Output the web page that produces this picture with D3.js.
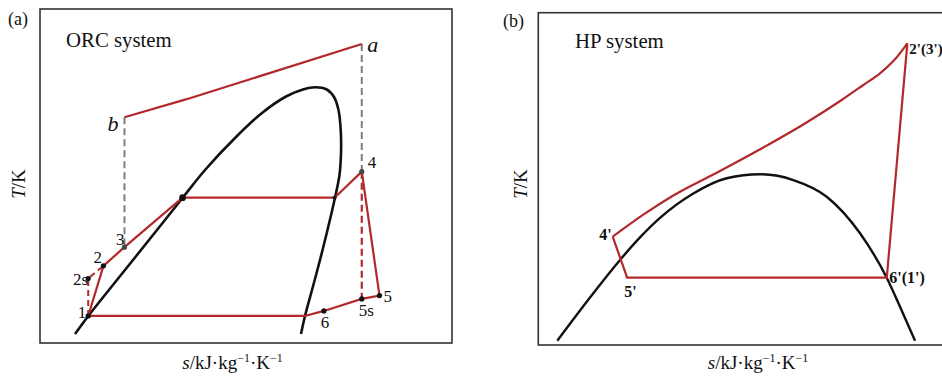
<!DOCTYPE html>
<html>
<head>
<meta charset="utf-8">
<script src="https://cdn.jsdelivr.net/npm/d3@7"></script>
<style>
  body { margin: 0; background: #fff; }
  svg { display: block; }
  text { font-family: "Liberation Serif", "Times New Roman", serif; fill: #111; }
</style>
</head>
<body>
<svg id="chart" width="942" height="380"></svg>
<script>
// ---------- (a) ORC system: T–s diagram, normalised units (0–100) ----------
const orcSaturation = [
  [8.50, 2.69], [11.72, 8.08], [23.06, 25.60], [34.64, 43.50], [40.05, 51.80], [47.57, 61.68],
  [53.88, 68.86], [59.71, 73.80], [63.83, 75.90], [66.75, 76.56], [69.59, 75.90], [71.36, 73.65],
  [72.45, 69.76], [72.99, 63.77], [73.06, 56.89], [72.69, 50.30], [71.60, 43.50], [69.66, 33.23],
  [67.96, 24.85], [66.02, 15.87], [64.32, 8.08], [63.35, 2.69]
];
// state points of the working fluid
const orcStateNames = ["1", "2s", "2", "3", "bubble", "dew", "4", "5", "5s", "6", "sat"];
const orcStateS     = [11.7, 11.7, 15.4, 20.5, 34.6, 71.5, 78.1, 82.4, 78.1, 68.9, 64.3];
const orcStateT     = [ 8.1, 19.3, 23.1, 28.7, 43.5, 43.5, 51.3, 14.2, 13.2,  9.6,  8.1];
// heat source line b → a
const orcSourceS = [20.5, 35.6, 78.1];
const orcSourceT = [67.6, 73.0, 89.5];
// cycle order and the ideal (isentropic) paths
const orcCycleOrder   = ["1", "2", "3", "bubble", "dew", "4", "5", "5s", "6", "sat", "1"];
const orcIdealPump    = ["1", "2s", "2"];
const orcIdealTurbine = ["4", "5s"];
const orcMarked       = ["1", "2s", "2", "3", "bubble", "dew", "4", "5", "5s", "6"];
const orcLabels       = ["1", "2s", "2", "3", "4", "5", "5s", "6"];

// ---------- (b) HP system ----------
const hpSaturation = [
  [4.68, 1.29], [13.56, 15.56], [20.14, 25.58], [25.07, 32.38], [30.00, 38.25], [38.21, 45.59],
  [46.44, 50.17], [54.65, 51.37], [62.85, 49.65], [71.09, 44.63], [79.30, 33.61], [85.88, 20.25],
  [89.16, 11.53], [92.86, 1.29]
];
const hpStateNames = ["2'(3')", "6'(1')", "5'", "4'"];
const hpStateS     = [90.96, 85.9, 21.9, 18.34];
const hpStateT     = [90.79, 20.3, 20.3, 32.59];
// heat sink line 4' → 2'
const hpSinkS = [18.34, 25.88, 33.28, 44.79, 55.46, 65.32, 74.78, 80.11, 84.22, 87.92, 90.96];
const hpSinkT = [32.59, 39.21, 44.99, 52.36, 59.43, 66.36, 73.73, 78.24, 81.76, 85.98, 90.79];

const RED = "#b3292b", GRAY = "#7f7f7f", FRAME = "#333";
const svg = d3.select("#chart");

function axisTitles(g, yx, xx) {
  const yt = g.append("text").attr("transform", `translate(${yx},184) rotate(-90)`)
    .attr("text-anchor", "middle").attr("font-size", 19);
  yt.append("tspan").attr("font-style", "italic").text("T");
  yt.append("tspan").text("/K");

  const xt = g.append("text").attr("x", xx).attr("y", 369).attr("text-anchor", "middle").attr("font-size", 19);
  xt.append("tspan").attr("font-style", "italic").text("s");
  xt.append("tspan").text("/kJ\u00B7kg");
  xt.append("tspan").attr("font-size", 12).attr("dy", -7).text("\u22121");
  xt.append("tspan").attr("dy", 7).text("\u00B7K");
  xt.append("tspan").attr("font-size", 12).attr("dy", -7).text("\u22121");
}

// ================= panel (a) =================
{
  const x = d3.scaleLinear([0, 100], [40, 452]);
  const y = d3.scaleLinear([0, 100], [343, 9]);
  const pt = name => { const i = orcStateNames.indexOf(name); return [orcStateS[i], orcStateT[i]]; };
  const line = d3.line().x(d => x(d[0])).y(d => y(d[1]));
  const smooth = d3.line().x(d => x(d[0])).y(d => y(d[1])).curve(d3.curveCatmullRom.alpha(0.5));
  const g = svg.append("g");

  g.append("rect").attr("x", x(0)).attr("y", y(100)).attr("width", x(100) - x(0)).attr("height", y(0) - y(100))
    .attr("fill", "none").attr("stroke", FRAME).attr("stroke-width", 1.6);

  const a = [orcSourceS[2], orcSourceT[2]], b = [orcSourceS[0], orcSourceT[0]];
  // gray dashed drops from the heat source
  g.append("path").attr("d", line([b, pt("3")])).attr("fill", "none").attr("stroke", GRAY)
    .attr("stroke-width", 2).attr("stroke-dasharray", "7,4");
  g.append("path").attr("d", line([a, pt("4")])).attr("fill", "none").attr("stroke", GRAY)
    .attr("stroke-width", 2).attr("stroke-dasharray", "7,4");

  // saturation dome
  g.append("path").attr("d", smooth(orcSaturation)).attr("fill", "none")
    .attr("stroke", "#111").attr("stroke-width", 2.6);

  // heat source
  g.append("path").attr("d", line(orcSourceS.map((s, i) => [s, orcSourceT[i]]))).attr("fill", "none")
    .attr("stroke", RED).attr("stroke-width", 2.2);

  // ideal paths
  g.append("path").attr("d", line(orcIdealPump.map(pt))).attr("fill", "none").attr("stroke", RED)
    .attr("stroke-width", 2).attr("stroke-dasharray", "6,4");
  g.append("path").attr("d", line(orcIdealTurbine.map(pt))).attr("fill", "none").attr("stroke", RED)
    .attr("stroke-width", 2.2).attr("stroke-dasharray", "7,4");

  // real cycle
  g.append("path").attr("d", line(orcCycleOrder.map(pt))).attr("fill", "none").attr("stroke", RED)
    .attr("stroke-width", 2.2).attr("stroke-linejoin", "round");

  g.selectAll("circle.state").data(orcMarked).join("circle")
    .attr("cx", d => x(pt(d)[0])).attr("cy", d => y(pt(d)[1]))
    .attr("r", d => d === "bubble" ? 3.4 : (d === "dew" ? 2 : 2.6))
    .attr("fill", d => (d === "3" || d === "4") ? "#444" : "#111");

  const off = {
    "1": [-2, 2, "end"], "2s": [0, 6.5, "end"], "2": [-1.5, -3, "end"], "3": [0, -2, "end"],
    "4": [6, -4, "start"], "5": [4, 6.5, "start"], "5s": [-3, 17, "start"], "6": [-3, 17, "start"]
  };
  g.selectAll("text.state").data(orcLabels).join("text")
    .attr("x", d => x(pt(d)[0]) + off[d][0]).attr("y", d => y(pt(d)[1]) + off[d][1])
    .attr("text-anchor", d => off[d][2]).attr("font-size", 17).text(d => d);

  g.append("text").attr("x", x(a[0]) + 5.5).attr("y", y(a[1]) + 7.5).attr("font-size", 22)
    .attr("font-style", "italic").text("a");
  g.append("text").attr("x", x(b[0]) - 6).attr("y", y(b[1]) + 14).attr("text-anchor", "end")
    .attr("font-size", 22).attr("font-style", "italic").text("b");

  g.append("text").attr("x", 8).attr("y", 25).attr("font-size", 18).text("(a)");
  g.append("text").attr("x", 66).attr("y", 47).attr("font-size", 20.8).text("ORC system");

  axisTitles(g, 25, 232.5);
}

// ================= panel (b) =================
{
  const x = d3.scaleLinear([0, 100], [538.3, 944]);
  const y = d3.scaleLinear([0, 100], [345, 12.7]);
  const pt = name => { const i = hpStateNames.indexOf(name); return [hpStateS[i], hpStateT[i]]; };
  const line = d3.line().x(d => x(d[0])).y(d => y(d[1]));
  const smooth = d3.line().x(d => x(d[0])).y(d => y(d[1])).curve(d3.curveMonotoneX);
  const g = svg.append("g");

  g.append("rect").attr("x", x(0)).attr("y", y(100)).attr("width", x(100) - x(0)).attr("height", y(0) - y(100))
    .attr("fill", "none").attr("stroke", FRAME).attr("stroke-width", 1.6);

  g.append("path").attr("d", smooth(hpSaturation))
    .attr("fill", "none").attr("stroke", "#111").attr("stroke-width", 2.4);

  // compressor, evaporator and throttling legs
  g.append("path").attr("d", line(["4'", "5'", "6'(1')", "2'(3')"].map(pt))).attr("fill", "none")
    .attr("stroke", RED).attr("stroke-width", 2.2).attr("stroke-linejoin", "miter");
  // condensing / heat sink curve
  g.append("path").attr("d", smooth(hpSinkS.map((s, i) => [s, hpSinkT[i]])))
    .attr("fill", "none").attr("stroke", RED).attr("stroke-width", 2.2);

  const off = {
    "2'(3')": [2, 10.5, "start", 15], "6'(1')": [2.5, 5.5, "start", 16],
    "5'": [-3, 19.5, "start", 16], "4'": [-1, 3.5, "end", 16]
  };
  g.selectAll("text.state").data(hpStateNames).join("text")
    .attr("x", d => x(pt(d)[0]) + off[d][0]).attr("y", d => y(pt(d)[1]) + off[d][1])
    .attr("text-anchor", d => off[d][2]).attr("font-size", d => off[d][3])
    .attr("font-weight", "bold").text(d => d);

  g.append("text").attr("x", 503).attr("y", 27).attr("font-size", 18).text("(b)");
  g.append("text").attr("x", 575).attr("y", 48).attr("font-size", 20.8).text("HP system");

  axisTitles(g, 527, 758);
}
</script>
</body>
</html>
